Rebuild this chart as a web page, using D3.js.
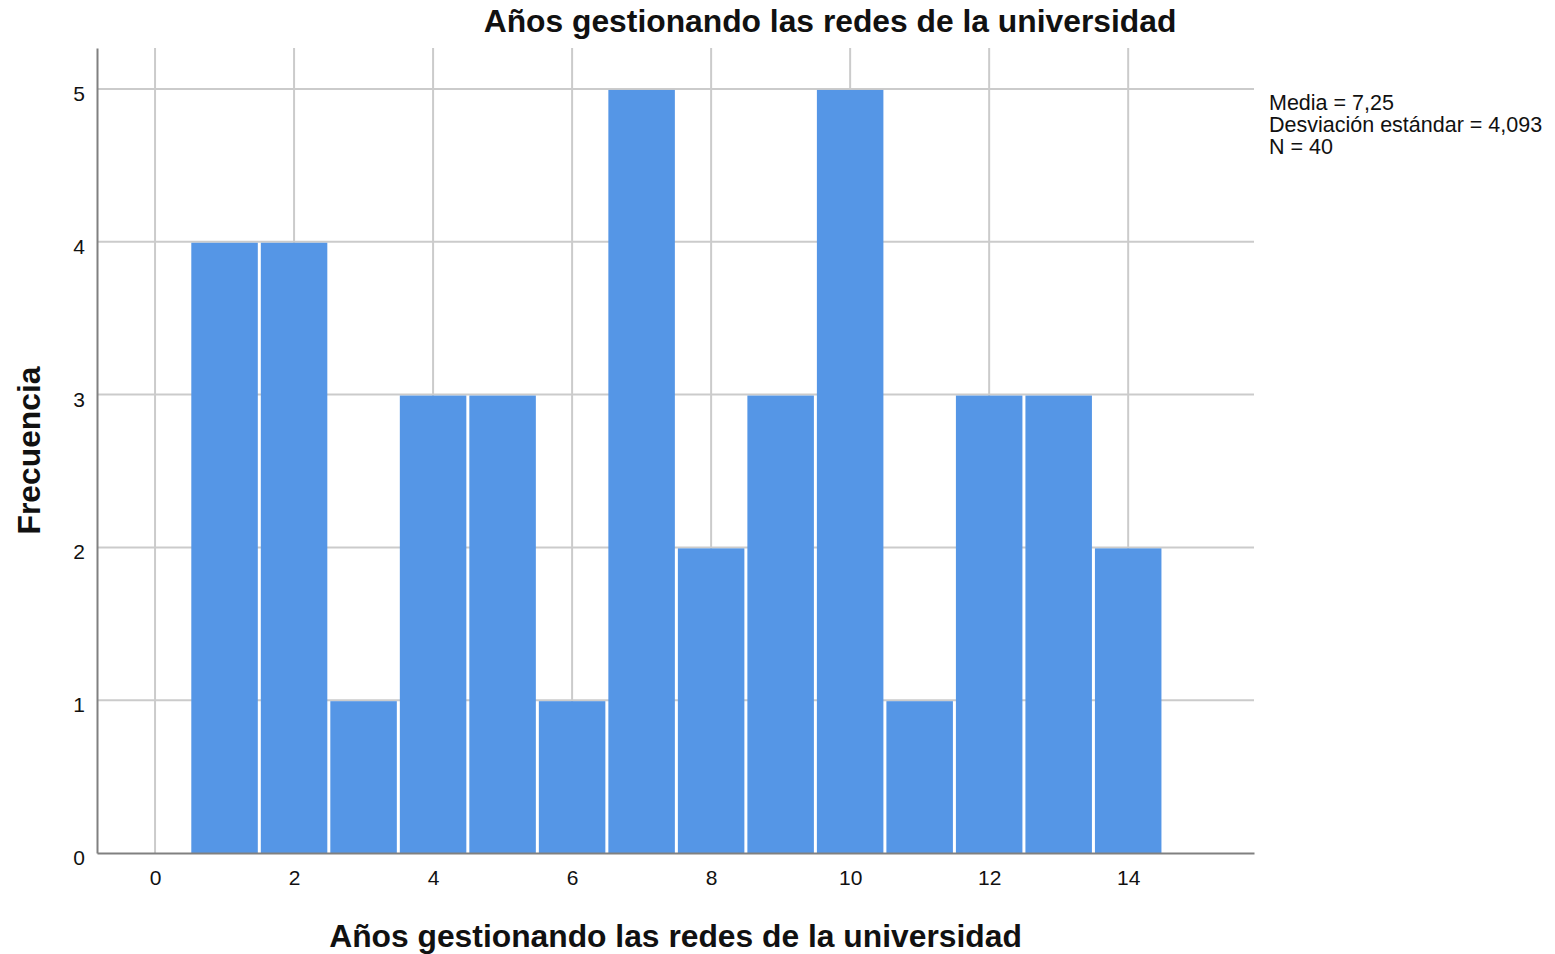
<!DOCTYPE html>
<html>
<head>
<meta charset="utf-8">
<script src="https://cdn.jsdelivr.net/npm/d3@7"></script>
<style>
    body { margin: 0; background: #fff; }
    svg text { font-family: "Liberation Sans", Arial, sans-serif; fill: #111; }
</style>
</head>
<body>
<script>
// histogram data: one bin per year value
const years = [1, 2, 3, 4, 5, 6, 7, 8, 9, 10, 11, 12, 13, 14];
const counts = [4, 4, 1, 3, 3, 1, 5, 2, 3, 5, 1, 3, 3, 2];
const xTicks = [0, 2, 4, 6, 8, 10, 12, 14];
const yTicks = [0, 1, 2, 3, 4, 5];
const statsLines = ["Media = 7,25", "Desviación estándar = 4,093", "N = 40"];
const titleText = "Años gestionando las redes de la universidad";

const width = 1555;
const height = 954;
const plotLeft = 97, plotRight = 1254, plotTop = 48, plotBottom = 853;

const xScale = d3.scaleLinear()
    .domain([-0.835, 15.81])
    .range([plotLeft, plotRight]);

const yScale = d3.scaleLinear()
    .domain([0, 5.268])
    .range([plotBottom, plotTop]);

const svg = d3.select("body")
    .append("svg")
    .attr("width", width)
    .attr("height", height);

// grid lines
svg.append("g")
    .selectAll("line")
    .data(xTicks)
    .enter()
    .append("line")
    .attr("x1", d => xScale(d))
    .attr("x2", d => xScale(d))
    .attr("y1", plotTop)
    .attr("y2", plotBottom)
    .attr("stroke", "#cbcbcb")
    .attr("stroke-width", 2);

svg.append("g")
    .selectAll("line")
    .data(yTicks.filter(d => d > 0))
    .enter()
    .append("line")
    .attr("x1", plotLeft)
    .attr("x2", plotRight)
    .attr("y1", d => yScale(d))
    .attr("y2", d => yScale(d))
    .attr("stroke", "#cbcbcb")
    .attr("stroke-width", 2);

// bars
svg.append("g")
    .selectAll("rect")
    .data(years)
    .enter()
    .append("rect")
    .attr("x", d => xScale(d - 0.5) + 1.5)
    .attr("width", d => xScale(d + 0.5) - xScale(d - 0.5) - 3)
    .attr("y", (d, i) => yScale(counts[i]) + 1)
    .attr("height", (d, i) => yScale(0) - yScale(counts[i]) - 1)
    .attr("fill", "#5596e6");

// axes
const xAxis = d3.axisBottom(xScale)
    .tickValues(xTicks)
    .tickFormat(d3.format("d"))
    .tickSize(0)
    .tickPadding(17);

const yAxis = d3.axisLeft(yScale)
    .tickValues(yTicks)
    .tickFormat(d3.format("d"))
    .tickSize(0)
    .tickPadding(12);

const gx = svg.append("g")
    .attr("transform", `translate(0, ${plotBottom})`)
    .call(xAxis);

const gy = svg.append("g")
    .attr("transform", `translate(${plotLeft}, 0)`)
    .call(yAxis);

[gx, gy].forEach(g => {
    g.select(".domain").attr("stroke", "#808080").attr("stroke-width", 2);
    g.selectAll("text")
        .style("font-size", "21px")
        .style("font-family", "'Liberation Sans', Arial, sans-serif")
        .attr("fill", "#111");
});
gy.selectAll("text").attr("dy", "0.55em");

// titles
svg.append("text")
    .attr("x", 830)
    .attr("y", 32)
    .attr("text-anchor", "middle")
    .style("font-size", "31.8px")
    .style("font-weight", "bold")
    .text(titleText);

svg.append("text")
    .attr("x", (plotLeft + plotRight) / 2)
    .attr("y", 947)
    .attr("text-anchor", "middle")
    .style("font-size", "31.8px")
    .style("font-weight", "bold")
    .text(titleText);

svg.append("text")
    .attr("transform", `translate(40, ${(plotTop + plotBottom) / 2}) rotate(-90)`)
    .attr("text-anchor", "middle")
    .style("font-size", "31.8px")
    .style("font-weight", "bold")
    .text("Frecuencia");

// summary stats
svg.append("g")
    .selectAll("text")
    .data(statsLines)
    .enter()
    .append("text")
    .attr("x", 1269)
    .attr("y", (d, i) => 110 + i * 22)
    .style("font-size", "21.5px")
    .text(d => d);
</script>
</body>
</html>
